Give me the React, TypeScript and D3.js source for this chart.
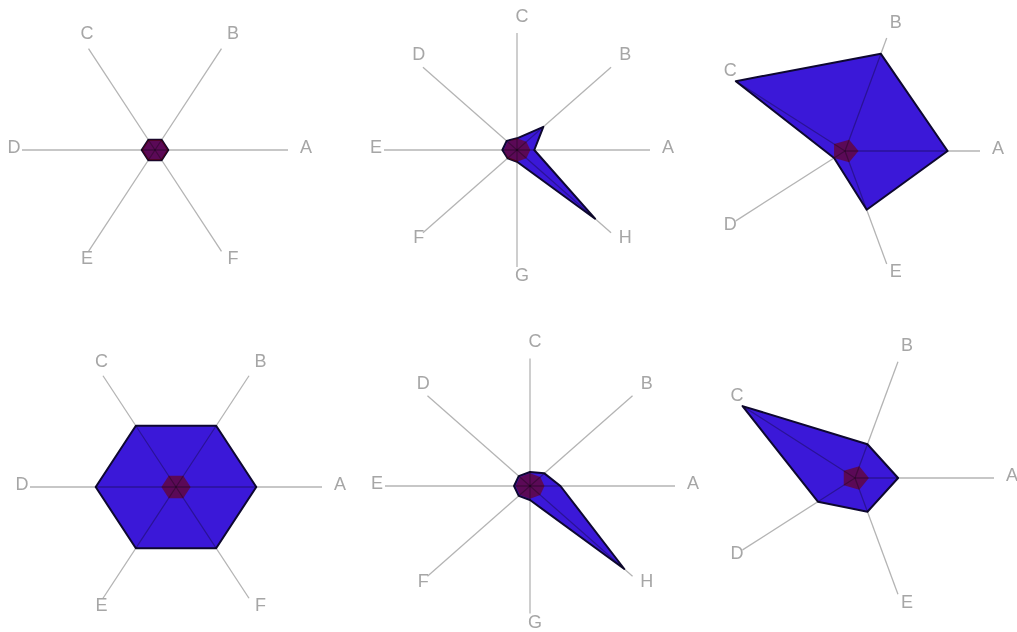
import React from "react";
import * as d3 from "d3";

const width = 1017;
const height = 632;
const squash = 0.88; // picture is a bit flattened vertically

// axis labels
const axes5 = ["A", "B", "C", "D", "E"];
const axes6 = ["A", "B", "C", "D", "E", "F"];
const axes8 = ["A", "B", "C", "D", "E", "F", "G", "H"];

// values per chart (0..1 of the axis length)
const values1 = [0.1, 0.1, 0.1, 0.1, 0.1, 0.1];
const values2 = [0.13, 0.28, 0.1, 0.11, 0.11, 0.1, 0.1, 0.83];
const values3 = [0.76, 0.86, 1.0, 0.1, 0.52];
const values4 = [0.55, 0.55, 0.55, 0.55, 0.55, 0.55];
const values5 = [0.21, 0.14, 0.11, 0.11, 0.11, 0.11, 0.11, 0.92];
const values6 = [0.31, 0.29, 1.0, 0.33, 0.29];

const hubValue = 0.1;

// layout of each small chart
const panels = [
  { labels: axes6, values: values1, cx: 155, cy: 150, r: 133 },
  { labels: axes8, values: values2, cx: 517, cy: 150, r: 133 },
  { labels: axes5, values: values3, cx: 845, cy: 151, r: 135 },
  { labels: axes6, values: values4, cx: 176, cy: 487, r: 146 },
  { labels: axes8, values: values5, cx: 530, cy: 486, r: 145 },
  { labels: axes5, values: values6, cx: 855, cy: 478, r: 139 }
];

type PanelProps = {
  labels: string[];
  values: number[];
  cx: number;
  cy: number;
  r: number;
};

function Radar({ labels, values, cx, cy, r }: PanelProps) {
  const n = labels.length;
  const radius = d3.scaleLinear().domain([0, 1]).range([0, r]);
  // theta counter-clockwise from east
  const theta = d3.scaleLinear().domain([0, n]).range([0, 2 * Math.PI]);
  const radialAngle = (i: number) => Math.PI / 2 - theta(i);

  const line = d3
    .lineRadial<number>()
    .angle((_, i) => radialAngle(i))
    .radius(v => radius(v))
    .curve(d3.curveLinearClosed);

  const hub = labels.map(() => hubValue);

  return (
    <g>
      <g transform={`translate(${cx},${cy}) scale(1,${squash})`}>
        <path
          d={line(values) || ""}
          fill="#3b18d8"
          stroke="#0e0830"
          strokeWidth={2}
          strokeLinejoin="round"
          vectorEffect="non-scaling-stroke"
        />
        <path d={line(hub) || ""} fill="#700008" fillOpacity={0.62} />
        {labels.map((lab, i) => (
          <line
            key={lab}
            x1={0}
            y1={0}
            x2={radius(1) * Math.cos(theta(i))}
            y2={-radius(1) * Math.sin(theta(i))}
            stroke="#b4b4b4"
            strokeWidth={1.3}
            vectorEffect="non-scaling-stroke"
            style={{ mixBlendMode: "multiply" }}
          />
        ))}
      </g>
      {labels.map((lab, i) => {
        const c = Math.cos(theta(i));
        const s = Math.sin(theta(i));
        const ex = cx + radius(1) * c;
        const ey = cy - radius(1) * s * squash;
        const dy = s >= 0 ? -13.5 * s - 3.5 : -12 * s - 4;
        return (
          <text
            key={lab}
            x={ex + 13 * c + 5}
            y={ey + dy}
            textAnchor="middle"
            dominantBaseline="central"
            fontFamily="'Liberation Sans', Arial, sans-serif"
            fontSize={18}
            fill="#a6a6a6"
          >
            {lab}
          </text>
        );
      })}
    </g>
  );
}

export default function App() {
  return (
    <div>
      <style>{`body { margin: 0; background: #fff; }`}</style>
      <svg width={width} height={height} style={{ display: "block" }}>
        <rect width={width} height={height} fill="#ffffff" />
        {panels.map((p, i) => (
          <Radar key={i} {...p} />
        ))}
      </svg>
    </div>
  );
}
